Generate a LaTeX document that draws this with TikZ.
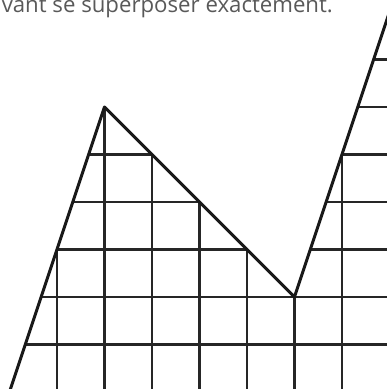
\documentclass[tikz,border=0pt]{standalone}
\usepackage{fontspec}
\setsansfont{Open Sans}
\usepackage{tikz}

\begin{document}
\begin{tikzpicture}[x=1cm,y=1cm]
    \tikzstyle{gridline}=[draw=black!85,line width=1.5pt]
    \tikzstyle{edge}=[draw=black!90,line width=1.8pt,line join=round]
    \useasboundingbox (-1.2,-1.937) rectangle (6.947,6.253);
    \clip (-1.2,-1.937) rectangle (6.947,6.253);

    \node[anchor=base west,inner sep=0pt,text=black!65,font=\sffamily\fontsize{13.3}{15}\selectfont] (caption) at (-1.17,5.98) {vant se superposer exactement.};

    \begin{scope}
        \clip (-1,-2) -- (1,4) -- (5,0) -- (7,6) -- (7,-2) -- cycle;
        \foreach \x in {0,...,7}
            \draw[gridline] (\x,-2) -- (\x,6);
        \foreach \y in {-1,...,5}
            \draw[gridline] (-1,\y) -- (7,\y);
    \end{scope}

    \draw[edge] (-1.1,-2.3) -- (1,4) -- (5,0) -- (7.1,6.3);
\end{tikzpicture}
\end{document}
